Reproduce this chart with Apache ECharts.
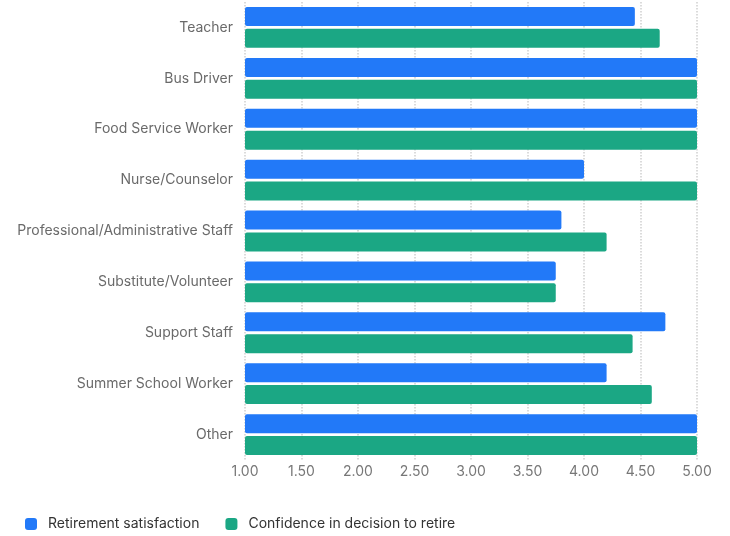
<!DOCTYPE html>
<html>
<head>
<meta charset="utf-8">
<script src="https://cdn.jsdelivr.net/npm/echarts@6/dist/echarts.min.js"></script>
<style>
html,body{margin:0;padding:0;background:#fff;}
#chart{width:730px;height:536px;}
</style>
</head>
<body>
<div id="chart"></div>
<script>
var categories = ["Teacher", "Bus Driver", "Food Service Worker", "Nurse/Counselor", "Professional/Administrative Staff", "Substitute/Volunteer", "Support Staff", "Summer School Worker", "Other"];
var satisfaction = [4.45, 5.00, 5.00, 4.00, 3.80, 3.75, 4.72, 4.20, 5.00];
var confidence = [4.67, 5.00, 5.00, 5.00, 4.20, 3.75, 4.43, 4.60, 5.00];
var seriesNames = ["Retirement satisfaction", "Confidence in decision to retire"];
var colors = ["#2279f8", "#1ba784"];

var chart = echarts.init(document.getElementById('chart'), null, {renderer: 'canvas'});
chart.setOption({
  animation: false,
  color: colors,
  textStyle: {fontFamily: 'Inter'},
  grid: {left: 245, right: 33, top: 2, bottom: 76, containLabel: false},
  legend: {
    left: 20, top: 512,
    itemWidth: 12, itemHeight: 12, itemGap: 26,
    icon: 'roundRect',
    textStyle: {color: '#333', fontSize: 14, fontFamily: 'Inter', padding: [0, 0, 0, 6]},
    data: seriesNames
  },
  xAxis: {
    type: 'value', min: 1, max: 5, interval: 0.5,
    axisLine: {show: false}, axisTick: {show: false},
    splitLine: {show: true, lineStyle: {type: 'dotted', color: '#d0d0d0', width: 1.5}},
    axisLabel: {color: '#777', fontSize: 14, margin: 5, formatter: function (v) { return v.toFixed(2); }}
  },
  yAxis: {
    type: 'category', data: categories, inverse: true,
    axisLine: {show: false}, axisTick: {show: false},
    axisLabel: {color: '#6a6a6a', fontSize: 14, margin: 12}
  },
  series: [
    {name: seriesNames[0], type: 'bar', data: satisfaction, barWidth: 19, barGap: '15%', itemStyle: {borderRadius: 2}},
    {name: seriesNames[1], type: 'bar', data: confidence, barWidth: 19, barGap: '15%', itemStyle: {borderRadius: 2}}
  ]
});
</script>
</body>
</html>
